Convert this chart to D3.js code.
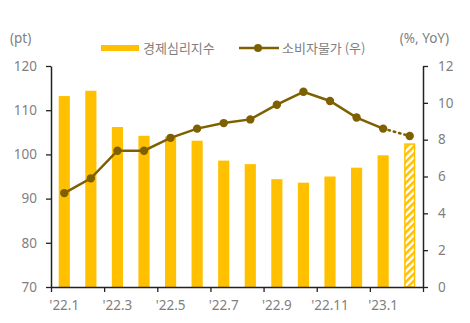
<!DOCTYPE html>
<html>
<head>
<meta charset="utf-8">
<script src="https://cdn.jsdelivr.net/npm/d3@7/dist/d3.min.js"></script>
<style>
  html, body { margin: 0; padding: 0; background: #fff; }
  svg { display: block; }
  text { font-family: "Noto Sans CJK KR", "Noto Sans", sans-serif; }
</style>
</head>
<body>
<svg id="chart" width="470" height="323"></svg>
<script>
// Monthly data, Jan 2022 – Feb 2023
const months = ["'22.1","'22.2","'22.3","'22.4","'22.5","'22.6","'22.7","'22.8","'22.9","'22.10","'22.11","'22.12","'23.1","'23.2"];
const esiValues = [113.2, 114.4, 106.2, 104.2, 104.0, 103.1, 98.6, 97.8, 94.4, 93.6, 95.0, 97.0, 99.8, 102.5];
const cpiValues = [5.1, 5.9, 7.4, 7.4, 8.1, 8.6, 8.9, 9.1, 9.9, 10.6, 10.1, 9.2, 8.6, 8.2];
const leftTicks = [70, 80, 90, 100, 110, 120];
const rightTicks = [0, 2, 4, 6, 8, 10, 12];
const xTickLabels = ["'22.1","'22.3","'22.5","'22.7","'22.9","'22.11","'23.1"];
const esiName = "경제심리지수";
const cpiName = "소비자물가 (우)";

const svg = d3.select("#chart");
const plotLeft = 51, plotRight = 423, plotTop = 66, plotBottom = 287;
const barColor = "#FFC000";
const lineColor = "#7F6000";
const textColor = "#7f7f7f";

const x = d3.scaleBand().domain(months).range([plotLeft, plotRight])
  .paddingInner(0.58).paddingOuter(0.29);
const xi = d3.scaleLinear().domain([0, months.length]).range([plotLeft, plotRight]);
const yL = d3.scaleLinear().domain([70, 120]).range([plotBottom, plotTop]);
const yR = d3.scaleLinear().domain([0, 12]).range([plotBottom, plotTop]);

// hatched fill for the latest (preliminary) bar
const defs = svg.append("defs");
const pat = defs.append("pattern").attr("id", "hatch")
  .attr("patternUnits", "userSpaceOnUse").attr("width", 5).attr("height", 5)
  .attr("patternTransform", "rotate(45)");
pat.append("rect").attr("width", 5).attr("height", 5).attr("fill", "#fff");
pat.append("rect").attr("width", 2.6).attr("height", 5).attr("fill", barColor);

// bars
const last = months.length - 1;
svg.append("g").selectAll("rect").data(esiValues).join("rect")
  .attr("x", (d, i) => x(months[i]) + (i === last ? 0.75 : 0))
  .attr("y", (d, i) => yL(d) + (i === last ? 0.75 : 0))
  .attr("width", (d, i) => x.bandwidth() - (i === last ? 1.5 : 0))
  .attr("height", (d, i) => plotBottom - yL(d) - (i === last ? 0.75 : 0))
  .attr("fill", (d, i) => i === last ? "url(#hatch)" : barColor)
  .attr("stroke", (d, i) => i === last ? barColor : "none")
  .attr("stroke-width", 1.5);

// CPI line: solid through '23.1, dotted to the latest month
const cx = i => x(months[i]) + x.bandwidth() / 2;
const line = d3.line().x(d => cx(d.i)).y(d => yR(d.v));
const pts = cpiValues.map((v, i) => ({ v, i }));
svg.append("path").datum(pts.slice(0, last))
  .attr("d", line).attr("fill", "none")
  .attr("stroke", lineColor).attr("stroke-width", 2.5);
svg.append("path").datum(pts.slice(last - 1))
  .attr("d", line).attr("fill", "none")
  .attr("stroke", lineColor).attr("stroke-width", 2.5)
  .attr("stroke-dasharray", "1.5 4").attr("stroke-linecap", "round");
svg.append("g").selectAll("circle").data(pts).join("circle")
  .attr("cx", d => cx(d.i)).attr("cy", d => yR(d.v)).attr("r", 4.2)
  .attr("fill", lineColor);

// axes
function styleAxis(g) {
  g.selectAll(".domain").attr("stroke", "#222").attr("stroke-width", 1.5);
  g.selectAll(".tick line").attr("stroke", "#222").attr("stroke-width", 1.3);
  g.selectAll(".tick text").attr("fill", textColor).attr("font-size", 13.5)
    .style("font-family", "'Noto Sans', sans-serif");
}
svg.append("g").attr("transform", `translate(${plotLeft},0)`)
  .call(d3.axisLeft(yL).tickValues(leftTicks).tickSizeInner(5).tickSizeOuter(0).tickPadding(9))
  .call(styleAxis);
svg.append("g").attr("transform", `translate(${plotRight},0)`)
  .call(d3.axisRight(yR).tickValues(rightTicks).tickSizeInner(5).tickSizeOuter(0).tickPadding(10))
  .call(styleAxis);
const xAxis = svg.append("g").attr("transform", `translate(0,${plotBottom})`)
  .call(d3.axisBottom(xi).tickValues(d3.range(0, months.length + 1, 2))
    .tickFormat("").tickSizeInner(5).tickSizeOuter(0))
  .call(styleAxis);
xAxis.selectAll("text").remove();
svg.append("g").selectAll("text").data(xTickLabels).join("text")
  .attr("x", d => x(d) + x.bandwidth() / 2)
  .attr("y", 310)
  .attr("text-anchor", "middle")
  .attr("fill", textColor).attr("font-size", 13.5)
  .style("font-family", "'Noto Sans', sans-serif")
  .text(d => d);

// unit labels
svg.append("text").attr("x", 10).attr("y", 43).attr("fill", textColor)
  .attr("font-size", 13.5).style("font-family", "'Noto Sans', sans-serif").text("(pt)");
svg.append("text").attr("x", 449).attr("y", 43).attr("text-anchor", "end").attr("fill", textColor)
  .attr("font-size", 13.5).style("font-family", "'Noto Sans', sans-serif").text("(%, YoY)");

// legend
const lg = svg.append("g");
lg.append("rect").attr("x", 101).attr("y", 45).attr("width", 38).attr("height", 6).attr("fill", barColor);
lg.append("text").attr("x", 143).attr("y", 53).attr("fill", textColor).attr("font-size", 13)
  .text(esiName);
lg.append("line").attr("x1", 239).attr("x2", 279).attr("y1", 48).attr("y2", 48)
  .attr("stroke", lineColor).attr("stroke-width", 2.5);
lg.append("circle").attr("cx", 258).attr("cy", 48).attr("r", 4).attr("fill", lineColor);
lg.append("text").attr("x", 282).attr("y", 53).attr("fill", textColor).attr("font-size", 13)
  .text(cpiName);
</script>
</body>
</html>
